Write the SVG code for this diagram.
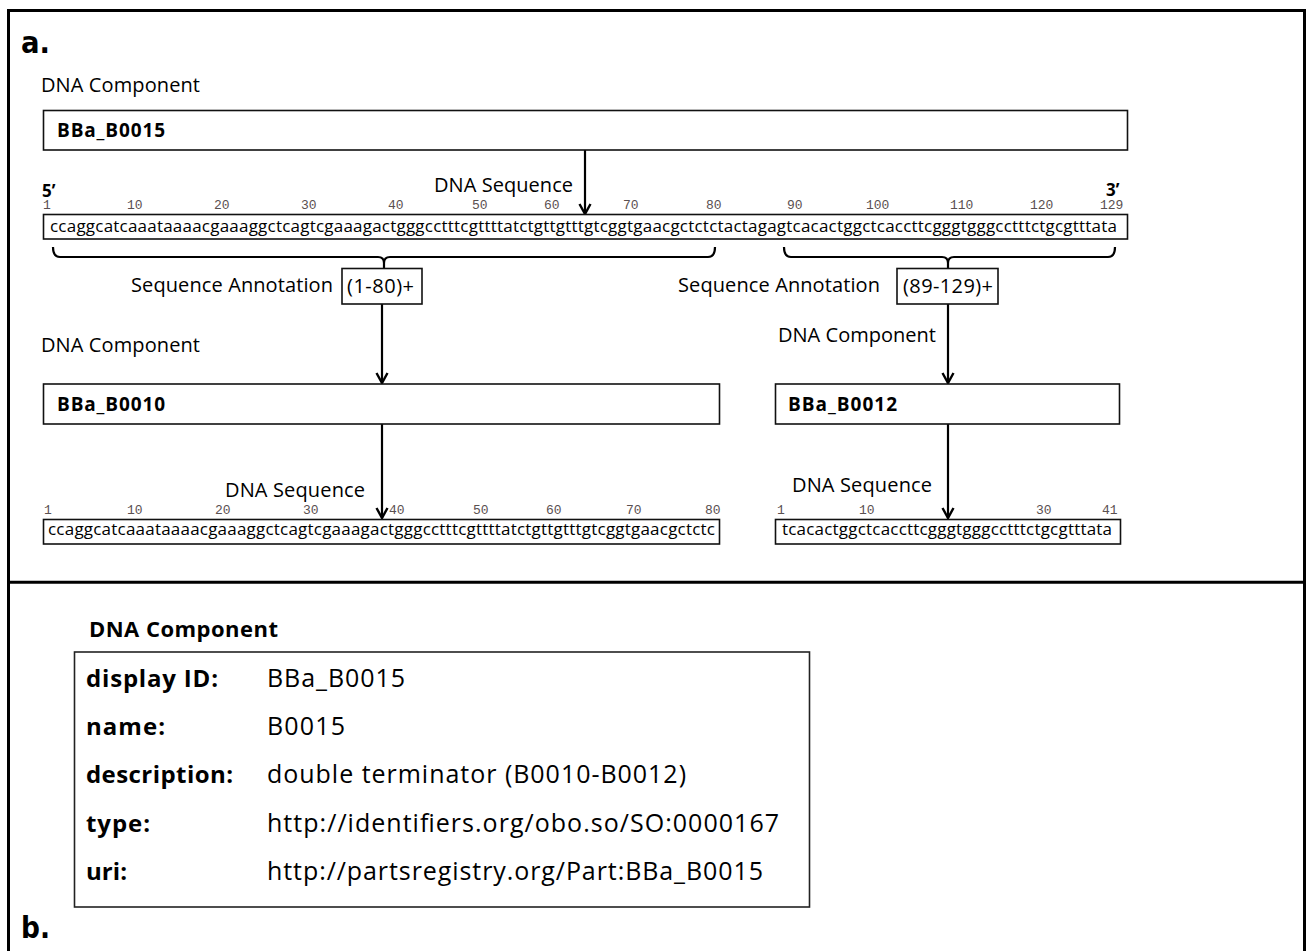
<svg xmlns="http://www.w3.org/2000/svg" width="1310" height="951" viewBox="0 0 1310 951">
<style>
.frame{fill:none;stroke:#000;stroke-width:3}
.box{fill:#fff;stroke:#111;stroke-width:1.6}
.lbl{font-family:"Open Sans","Noto Sans",sans-serif;font-size:20px;fill:#000}
.bid{font-family:"Open Sans","Noto Sans",sans-serif;font-weight:700;font-size:19px;fill:#000}
.seq{font-family:"Open Sans","Noto Sans",sans-serif;font-size:17px;fill:#000}
.num{font-family:"Liberation Mono","Courier New",monospace;font-size:13px;fill:#5a5050}
.big{font-family:"DejaVu Sans",Verdana,sans-serif;font-weight:700;font-size:30px;fill:#000}
.prime{font-family:"Open Sans","Noto Sans",sans-serif;font-weight:700;font-size:17px;fill:#000}
.bh{font-family:"Open Sans","Noto Sans",sans-serif;font-weight:700;font-size:22px;fill:#000}
.bl{font-family:"Open Sans","Noto Sans",sans-serif;font-weight:700;font-size:24px;fill:#000}
.bv{font-family:"Open Sans","Noto Sans",sans-serif;font-size:25px;fill:#000}
.conn{fill:none;stroke:#000;stroke-width:2.2}
.brace{fill:none;stroke:#000;stroke-width:2.2;stroke-linejoin:round}
</style>
<defs>
<marker id="arr" markerUnits="userSpaceOnUse" markerWidth="14" markerHeight="14" viewBox="0 0 14 14" refX="12" refY="7" orient="auto">
<path d="M2,1.5 L12,7 L2,12.5" fill="none" stroke="#000" stroke-width="2.4"/>
</marker>
</defs>
<rect x="0" y="0" width="1310" height="951" fill="#fff"/>
<rect class="frame" x="8.5" y="10.5" width="1296" height="950"/>
<line x1="8" y1="582.2" x2="1305" y2="582.2" stroke="#000" stroke-width="3"/>
<text class="big" x="21" y="53" textLength="29" lengthAdjust="spacingAndGlyphs">a.</text>
<text class="big" x="21" y="938" textLength="29" lengthAdjust="spacingAndGlyphs">b.</text>

<g id="connectors">
<line class="conn" x1="585" y1="150" x2="585" y2="214" marker-end="url(#arr)"/>
<line class="conn" x1="382" y1="304" x2="382" y2="383" marker-end="url(#arr)"/>
<line class="conn" x1="948" y1="304" x2="948" y2="383" marker-end="url(#arr)"/>
<line class="conn" x1="382" y1="424" x2="382" y2="518" marker-end="url(#arr)"/>
<line class="conn" x1="948" y1="424" x2="948" y2="518" marker-end="url(#arr)"/>
<path class="brace" d="M53,247 Q53,257 60,257 L378,257 Q384,257 384,263 Q384,257 390,257 L708,257 Q715,257 715,247 M384,263 L384,268"/>
<path class="brace" d="M784,247 Q784,257 791,257 L942,257 Q948,257 948,263 Q948,257 954,257 L1108,257 Q1115,257 1115,247 M948,263 L948,268"/>
</g>

<g id="label-top">
<text class="lbl" x="41" y="92" textLength="159">DNA Component</text>
</g>
<g id="node-B0015">
<rect class="box" x="43.5" y="110.5" width="1084" height="39.5"/>
<text class="bid" x="57" y="137" textLength="108">BBa_B0015</text>
</g>
<g id="seq-full">
<text class="lbl" x="434" y="192" textLength="139">DNA Sequence</text>
<text class="prime" x="42" y="197">5’</text>
<text class="prime" x="1106" y="196">3’</text>
<text class="num" y="209"><tspan x="43">1</tspan><tspan x="127">10</tspan><tspan x="214">20</tspan><tspan x="301">30</tspan><tspan x="388">40</tspan><tspan x="472">50</tspan><tspan x="544">60</tspan><tspan x="623">70</tspan><tspan x="706">80</tspan><tspan x="787">90</tspan><tspan x="866">100</tspan><tspan x="950">110</tspan><tspan x="1030">120</tspan><tspan x="1100">129</tspan></text>
<rect class="box" x="43.5" y="214.5" width="1084" height="24.5"/>
<text class="seq" x="50" y="232" textLength="1067">ccaggcatcaaataaaacgaaaggctcagtcgaaagactgggcctttcgttttatctgttgtttgtcggtgaacgctctctactagagtcacactggctcaccttcgggtgggcctttctgcgtttata</text>
</g>
<g id="anno-1">
<text class="lbl" x="131" y="292" textLength="202">Sequence Annotation</text>
<rect class="box" x="342" y="268.5" width="80" height="35.5"/>
<text class="lbl" x="347" y="293" textLength="67">(1-80)+</text>
</g>
<g id="anno-2">
<text class="lbl" x="678" y="292" textLength="202">Sequence Annotation</text>
<rect class="box" x="897" y="268.5" width="101" height="35.5"/>
<text class="lbl" x="903" y="293" textLength="90">(89-129)+</text>
</g>
<g id="node-B0010">
<text class="lbl" x="41" y="352" textLength="159">DNA Component</text>
<rect class="box" x="43.5" y="384" width="676" height="40"/>
<text class="bid" x="57" y="411" textLength="108">BBa_B0010</text>
</g>
<g id="node-B0012">
<text class="lbl" x="778" y="342" textLength="158">DNA Component</text>
<rect class="box" x="775.5" y="384" width="344" height="40"/>
<text class="bid" x="788" y="411" textLength="109">BBa_B0012</text>
</g>
<g id="seq-B0010">
<text class="lbl" x="225" y="497" textLength="140">DNA Sequence</text>
<text class="num" y="514"><tspan x="44">1</tspan><tspan x="127">10</tspan><tspan x="215">20</tspan><tspan x="303">30</tspan><tspan x="389">40</tspan><tspan x="473">50</tspan><tspan x="546">60</tspan><tspan x="626">70</tspan><tspan x="705">80</tspan></text>
<rect class="box" x="43.5" y="519.5" width="676" height="24.5"/>
<text class="seq" x="48" y="535" textLength="667">ccaggcatcaaataaaacgaaaggctcagtcgaaagactgggcctttcgttttatctgttgtttgtcggtgaacgctctc</text>
</g>
<g id="seq-B0012">
<text class="lbl" x="792" y="492" textLength="140">DNA Sequence</text>
<text class="num" y="514"><tspan x="777">1</tspan><tspan x="859">10</tspan><tspan x="1036">30</tspan><tspan x="1102">41</tspan></text>
<rect class="box" x="775.5" y="519.5" width="345" height="24.5"/>
<text class="seq" x="782" y="535" textLength="330">tcacactggctcaccttcgggtgggcctttctgcgtttata</text>
</g>

<g id="panel-b">
<text class="bh" x="89" y="637" textLength="189">DNA Component</text>
<rect x="74.5" y="652" width="735" height="255" fill="#fff" stroke="#222" stroke-width="1.6"/>
<text class="bl" x="86" y="687" textLength="132">display ID:</text>
<text class="bl" x="86" y="735" textLength="79">name:</text>
<text class="bl" x="86" y="783" textLength="147">description:</text>
<text class="bl" x="86" y="832" textLength="64">type:</text>
<text class="bl" x="86" y="880" textLength="41">uri:</text>
<text class="bv" x="267" y="687" textLength="138">BBa_B0015</text>
<text class="bv" x="267" y="735" textLength="78">B0015</text>
<text class="bv" x="267" y="783" textLength="419">double terminator (B0010-B0012)</text>
<text class="bv" x="267" y="832" textLength="512">http://identifiers.org/obo.so/SO:0000167</text>
<text class="bv" x="267" y="880" textLength="496">http://partsregistry.org/Part:BBa_B0015</text>
</g>
</svg>
